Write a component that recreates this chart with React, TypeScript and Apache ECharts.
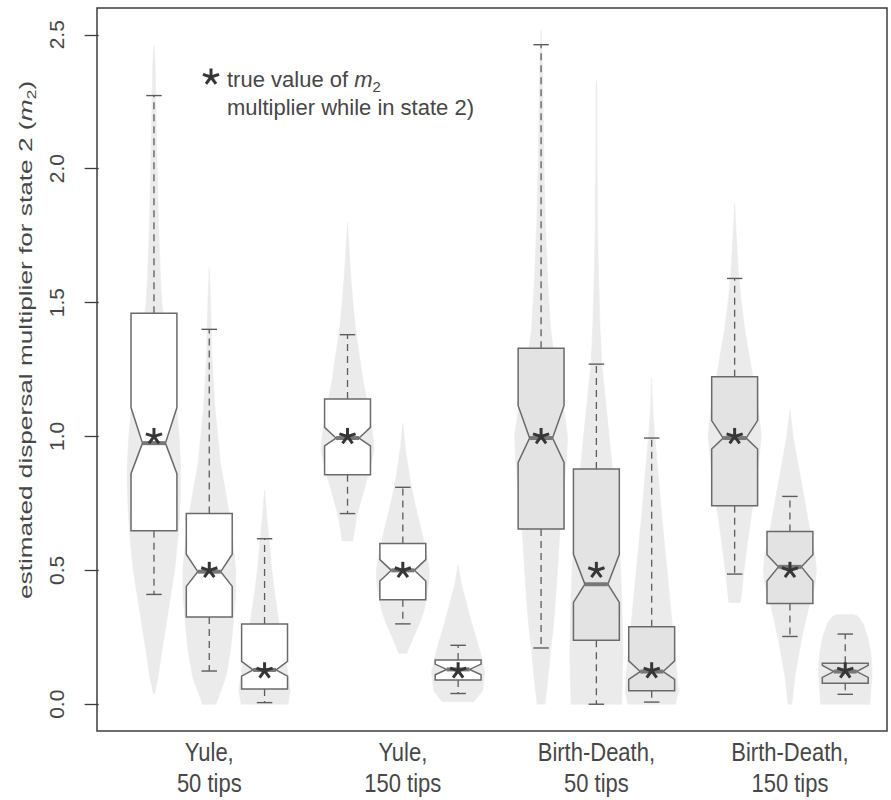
import React, { useEffect, useRef } from "react";
import * as echarts from "echarts";

// ---- data ----
const groupLabels = ["Yule,\n50 tips", "Yule,\n150 tips", "Birth-Death,\n50 tips", "Birth-Death,\n150 tips"];
const groupCenters = [2, 5.5, 9, 12.5];
const yTicks = [0, 0.5, 1, 1.5, 2, 2.5];

const boxPositions = [1, 2, 3, 4.5, 5.5, 6.5, 8, 9, 10, 11.5, 12.5, 13.5];
const trueValues = [1, 0.5, 0.125, 1, 0.5, 0.125, 1, 0.5, 0.125, 1, 0.5, 0.125];
const whiskerLow = [0.41, 0.124, 0.006, 0.712, 0.3, 0.04, 0.21, 0.0, 0.008, 0.486, 0.253, 0.037];
const lowerQuartile = [0.648, 0.326, 0.057, 0.857, 0.39, 0.09, 0.654, 0.239, 0.05, 0.741, 0.376, 0.078];
const notchLow = [0.861, 0.44, 0.105, 0.965, 0.46, 0.11, 0.903, 0.38, 0.093, 0.953, 0.46, 0.1];
const medians = [0.975, 0.495, 0.128, 0.994, 0.5, 0.13, 0.994, 0.448, 0.122, 0.994, 0.513, 0.122];
const notchHigh = [1.108, 0.56, 0.16, 1.034, 0.54, 0.15, 1.115, 0.56, 0.162, 1.059, 0.558, 0.145];
const upperQuartile = [1.46, 0.712, 0.3, 1.14, 0.6, 0.165, 1.329, 0.878, 0.289, 1.223, 0.645, 0.153];
const whiskerHigh = [2.273, 1.4, 0.618, 1.38, 0.81, 0.22, 2.463, 1.27, 0.994, 1.59, 0.776, 0.262];

// violin profiles: [value, relative density]
const violinYule50a = [[2.46, 0], [2.4, 0.04], [2.2, 0.08], [2.0, 0.12], [1.8, 0.17], [1.6, 0.24], [1.5, 0.3], [1.4, 0.4], [1.3, 0.55], [1.2, 0.72], [1.1, 0.86], [1.0, 0.95], [0.9, 1.0], [0.8, 1.0], [0.7, 0.96], [0.6, 0.88], [0.5, 0.78], [0.4, 0.62], [0.3, 0.46], [0.2, 0.3], [0.1, 0.15], [0.04, 0.02]];
const violinYule50b = [[1.63, 0], [1.5, 0.05], [1.3, 0.1], [1.1, 0.22], [0.9, 0.42], [0.8, 0.6], [0.7, 0.77], [0.6, 0.9], [0.5, 1.0], [0.4, 0.98], [0.3, 0.9], [0.2, 0.8], [0.1, 0.62], [0.0, 0.25]];
const violinYule50c = [[0.8, 0], [0.7, 0.08], [0.6, 0.18], [0.5, 0.27], [0.4, 0.4], [0.3, 0.55], [0.2, 0.75], [0.1, 0.9], [0.05, 0.97], [0.0, 0.88]];
const violinYule150a = [[1.8, 0], [1.7, 0.06], [1.6, 0.12], [1.5, 0.2], [1.4, 0.3], [1.3, 0.45], [1.2, 0.6], [1.1, 0.8], [1.0, 0.96], [0.95, 1.0], [0.9, 0.9], [0.8, 0.62], [0.7, 0.34], [0.61, 0.2]];
const violinYule150b = [[1.05, 0], [0.95, 0.1], [0.85, 0.25], [0.75, 0.45], [0.65, 0.7], [0.55, 0.92], [0.5, 1.0], [0.45, 0.98], [0.35, 0.8], [0.3, 0.62], [0.25, 0.4], [0.19, 0.15]];
const violinYule150c = [[0.52, 0], [0.45, 0.12], [0.4, 0.25], [0.3, 0.52], [0.2, 0.82], [0.12, 1.0], [0.05, 0.92], [0.01, 0.6]];
const violinBD50a = [[2.52, 0], [2.4, 0.05], [2.2, 0.08], [2.0, 0.11], [1.8, 0.16], [1.6, 0.24], [1.4, 0.36], [1.3, 0.5], [1.2, 0.68], [1.1, 0.86], [1.0, 1.0], [0.9, 0.95], [0.8, 0.85], [0.7, 0.75], [0.6, 0.68], [0.5, 0.62], [0.4, 0.55], [0.3, 0.47], [0.2, 0.36], [0.1, 0.26], [0.0, 0.15]];
const violinBD50b = [[2.33, 0], [2.3, 0.02], [2.1, 0.02], [1.8, 0.04], [1.6, 0.08], [1.4, 0.14], [1.27, 0.2], [1.1, 0.38], [0.88, 0.6], [0.7, 0.78], [0.5, 0.92], [0.3, 0.98], [0.2, 1.0], [0.1, 0.98], [0.0, 0.95]];
const violinBD50c = [[1.22, 0], [1.1, 0.04], [1.0, 0.12], [0.85, 0.25], [0.7, 0.38], [0.5, 0.58], [0.3, 0.77], [0.15, 0.92], [0.05, 1.0], [0.0, 0.9]];
const violinBD150a = [[1.87, 0], [1.75, 0.06], [1.6, 0.15], [1.5, 0.25], [1.4, 0.38], [1.3, 0.55], [1.2, 0.72], [1.1, 0.9], [1.0, 1.0], [0.9, 0.9], [0.8, 0.78], [0.7, 0.62], [0.6, 0.48], [0.5, 0.35], [0.38, 0.22]];
const violinBD150b = [[1.1, 0], [1.0, 0.12], [0.9, 0.3], [0.78, 0.52], [0.65, 0.75], [0.55, 0.95], [0.5, 1.0], [0.45, 0.95], [0.38, 0.75], [0.25, 0.45], [0.1, 0.18], [0.0, 0.07]];
const violinBD150c = [[0.335, 0.3], [0.33, 0.45], [0.32, 0.55], [0.3, 0.68], [0.25, 0.85], [0.2, 0.95], [0.15, 1.0], [0.1, 1.0], [0.05, 0.96], [0.0, 0.93]];

const violins = [violinYule50a, violinYule50b, violinYule50c, violinYule150a, violinYule150b, violinYule150c, violinBD50a, violinBD50b, violinBD50c, violinBD150a, violinBD150b, violinBD150c];

// ---- styles ----
const FONT = "'Liberation Sans', Arial, Helvetica, sans-serif";
const TEXT = "#474747";
const FRAME = "#3c3c3c";
const BOX_HALF = 0.415;
const CAP_HALF = 0.14;
const VIOLIN_HALF = 0.48;

function starLines(cx: number, cy: number, r: number) {
  const out: any[] = [];
  for (let k = 0; k < 5; k++) {
    const a = -Math.PI / 2 + (k * 2 * Math.PI) / 5;
    out.push({
      type: "line",
      shape: { x1: cx, y1: cy, x2: cx + r * Math.cos(a), y2: cy + r * Math.sin(a) },
      style: { stroke: "#363636", lineWidth: 3, lineCap: "butt" },
    });
  }
  return out;
}

export default function App() {
  const ref = useRef<HTMLDivElement>(null);
  useEffect(() => {
    document.body.style.margin = "0";
    const chart = echarts.init(ref.current!, undefined, { renderer: "svg" });
    const option: any = {
      animation: false,
      grid: { left: 97, right: 4, top: 8, bottom: 69, show: true, borderColor: FRAME, borderWidth: 1.5, backgroundColor: "#fff" },
      xAxis: {
        type: "value", min: -0.03, max: 14.255,
        axisLine: { show: false }, axisTick: { show: false }, axisLabel: { show: false }, splitLine: { show: false },
      },
      yAxis: {
        type: "value", min: -0.1, max: 2.6,
        axisLine: { show: false },
        splitLine: { show: false },
        axisTick: { show: true, length: 14, customValues: yTicks, lineStyle: { color: FRAME, width: 1.3 } },
        axisLabel: {
          customValues: yTicks, rotate: 90, fontSize: 21, color: TEXT, fontFamily: FONT, margin: 30,
          formatter: (v: number) => v.toFixed(1),
        },
      },
      series: [
        {
          type: "custom",
          data: boxPositions.map((p, i) => [p, i]),
          renderItem: (params: any, api: any) => {
            const x = api.value(0);
            const prof = violins[api.value(1)];
            const right = prof.map(([v, d]) => api.coord([x + d * VIOLIN_HALF, v]));
            const left = prof.slice().reverse().map(([v, d]) => api.coord([x - d * VIOLIN_HALF, v]));
            return { type: "polygon", shape: { points: right.concat(left) }, style: { fill: "#ebebeb", stroke: "#ebebeb", lineWidth: 0.6 } };
          },
          z: 1,
        },
        {
          type: "custom",
          data: boxPositions.map((p, i) => [p, whiskerLow[i], lowerQuartile[i], notchLow[i], medians[i], notchHigh[i], upperQuartile[i], whiskerHigh[i]]),
          renderItem: (params: any, api: any) => {
            const x = api.value(0);
            const wl = api.value(1), lq = api.value(2), nl = api.value(3), md = api.value(4), nh = api.value(5), uq = api.value(6), wh = api.value(7);
            const pt = (dx: number, v: number) => api.coord([x + dx, v]);
            const W = BOX_HALF, N = BOX_HALF / 2, C = CAP_HALF;
            const fill = params.dataIndex >= 6 ? "#e3e3e3" : "#ffffff";
            const dash = { stroke: "#5c5c5c", lineWidth: 1.3, lineDash: [7, 5] };
            const solid = { stroke: "#5c5c5c", lineWidth: 1.4 };
            const line = (a: number[], b: number[], style: any) => ({ type: "line", shape: { x1: a[0], y1: a[1], x2: b[0], y2: b[1] }, style });
            const poly = [pt(-W, lq), pt(-W, nl), pt(-N, md), pt(-W, nh), pt(-W, uq), pt(W, uq), pt(W, nh), pt(N, md), pt(W, nl), pt(W, lq)];
            return {
              type: "group",
              children: [
                line(pt(0, uq), pt(0, wh), dash),
                line(pt(0, lq), pt(0, wl), dash),
                line(pt(-C, wh), pt(C, wh), solid),
                line(pt(-C, wl), pt(C, wl), solid),
                { type: "polygon", shape: { points: poly }, style: { fill, stroke: "#6a6a6a", lineWidth: 1.5 } },
                line(pt(-N, md), pt(N, md), { stroke: "#777", lineWidth: 4 }),
              ],
            };
          },
          z: 2,
        },
        {
          type: "custom",
          data: boxPositions.map((p, i) => [p, trueValues[i]]),
          renderItem: (params: any, api: any) => {
            const c = api.coord([api.value(0), api.value(1)]);
            return { type: "group", children: starLines(c[0], c[1], 8.5) };
          },
          z: 3,
        },
      ],
    };
    chart.setOption(option);

    const labelGraphics = groupCenters.map((g, i) => {
      const px = chart.convertToPixel({ xAxisIndex: 0 }, g) as number;
      return {
        type: "text", x: px, y: 736, scaleY: 1.2,
        style: { text: groupLabels[i], fontSize: 22, lineHeight: 26, fill: TEXT, fontFamily: FONT, align: "center", verticalAlign: "top" },
      };
    });

    chart.setOption({
      graphic: [
        ...labelGraphics,
        {
          type: "text", x: 25, y: 340, rotation: Math.PI / 2, scaleX: 1.38,
          style: {
            text: "{a|estimated dispersal multiplier for state 2 (}{i|m}{s|2}{a|)}",
            align: "center", verticalAlign: "middle",
            rich: {
              a: { fontSize: 19, fill: TEXT, fontFamily: FONT, lineHeight: 26, verticalAlign: "middle" },
              i: { fontSize: 19, fill: TEXT, fontFamily: FONT, fontStyle: "italic", lineHeight: 26, verticalAlign: "middle" },
              s: { fontSize: 13, fill: TEXT, fontFamily: FONT, lineHeight: 26, verticalAlign: "bottom" },
            },
          },
        },
        { type: "group", children: starLines(211, 77, 8.5) },
        {
          type: "text", x: 227, y: 79,
          style: {
            text: "{a|true value of }{i|m}{s|2}",
            align: "left", verticalAlign: "middle",
            rich: {
              a: { fontSize: 22, fill: TEXT, fontFamily: FONT, lineHeight: 30, verticalAlign: "middle" },
              i: { fontSize: 22, fill: TEXT, fontFamily: FONT, fontStyle: "italic", lineHeight: 30, verticalAlign: "middle" },
              s: { fontSize: 15, fill: TEXT, fontFamily: FONT, lineHeight: 30, verticalAlign: "bottom" },
            },
          },
        },
        {
          type: "text", x: 227, y: 107,
          style: { text: "multiplier while in state 2)", fontSize: 22, fill: TEXT, fontFamily: FONT, align: "left", verticalAlign: "middle" },
        },
      ],
    });

    return () => chart.dispose();
  }, []);
  return <div ref={ref} style={{ width: 891, height: 800 }} />;
}
